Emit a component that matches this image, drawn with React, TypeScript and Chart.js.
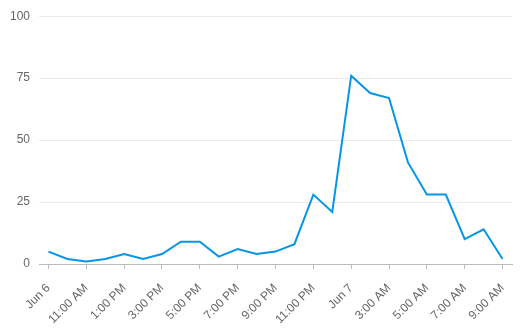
import React, { useEffect, useRef } from "react";
import { Chart, registerables } from "chart.js";

Chart.register(...registerables);

const hourLabels = [
  "Jun 6", "10:00 AM", "11:00 AM", "12:00 PM", "1:00 PM", "2:00 PM", "3:00 PM", "4:00 PM",
  "5:00 PM", "6:00 PM", "7:00 PM", "8:00 PM", "9:00 PM", "10:00 PM", "11:00 PM", "12:00 AM",
  "Jun 7", "2:00 AM", "3:00 AM", "4:00 AM", "5:00 AM", "6:00 AM", "7:00 AM", "8:00 AM", "9:00 AM",
];

const seriesValues = [5, 2, 1, 2, 4, 2, 4, 9, 9, 3, 6, 4, 5, 8, 28, 21, 76, 69, 67, 41, 28, 28, 10, 14, 2];

const yTicks = [0, 25, 50, 75, 100];

export default function App() {
  const ref = useRef<HTMLCanvasElement | null>(null);
  useEffect(() => {
    if (!ref.current) return;
    const chart = new Chart(ref.current, {
      type: "line",
      data: {
        labels: hourLabels,
        datasets: [
          {
            data: seriesValues,
            borderColor: "#0796e3",
            borderWidth: 2,
            pointRadius: 0,
            tension: 0,
            fill: false,
          },
        ],
      },
      options: {
        animation: false,
        responsive: false,
        maintainAspectRatio: false,
        layout: { padding: { top: 11, right: 9, left: 1, bottom: 0 } },
        plugins: { legend: { display: false }, tooltip: { enabled: false } },
        scales: {
          x: {
            offset: true,
            afterFit: (axis: any) => {
              axis.height = 72;
              axis.paddingRight = 0;
            },
            border: { display: true, color: "#bbbbbb" },
            grid: {
              display: true,
              drawOnChartArea: false,
              drawTicks: true,
              tickLength: 5,
              color: "#bbbbbb",
              offset: false,
            },
            ticks: {
              autoSkip: false,
              maxRotation: 45,
              minRotation: 45,
              color: "#666666",
              font: { family: "Liberation Sans, Arial, sans-serif", size: 12 },
              padding: 12,
              callback: (_v: any, i: number) => (i % 2 === 0 ? hourLabels[i] : null),
            },
          },
          y: {
            min: 0,
            max: 100,
            afterBuildTicks: (axis: any) => {
              axis.ticks = yTicks.map((v) => ({ value: v }));
            },
            border: { display: false },
            grid: { color: "#ebebeb", drawTicks: false },
            ticks: {
              color: "#666666",
              font: { family: "Liberation Sans, Arial, sans-serif", size: 12 },
              padding: 9,
            },
          },
        },
      },
    });
    return () => chart.destroy();
  }, []);
  return (
    <div style={{ width: 521, height: 336, position: "absolute", left: 0, top: 0 }}>
      <canvas ref={ref} width={521} height={336} style={{ width: 521, height: 336 }} />
    </div>
  );
}
